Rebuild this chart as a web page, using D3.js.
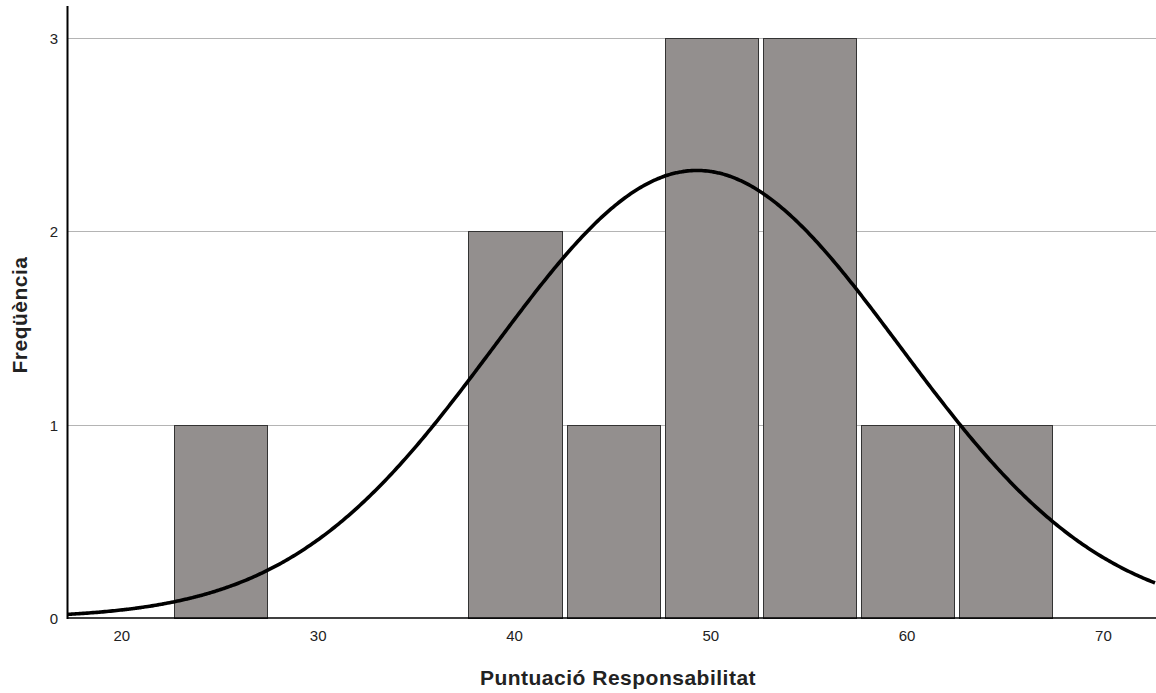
<!DOCTYPE html>
<html>
<head>
    <meta charset="utf-8">
    <title>Puntuació Responsabilitat</title>
    <script src="https://d3js.org/d3.v7.min.js"></script>
    <style>
        body { margin: 0; background: #fff; }
        text { font-family: "Liberation Sans", Arial, sans-serif; fill: #222; }
        .bar { fill: #938f8e; stroke: #333; stroke-width: 1px; }
        .grid line { stroke: #b4b4b4; stroke-width: 1px; }
        .curve { fill: none; stroke: #000; stroke-width: 3.6px; }
    </style>
</head>
<body>
<script>
    // histogram bins (lower edge, upper edge) and counts
    const binStart = [22.5, 37.5, 42.5, 47.5, 52.5, 57.5, 62.5];
    const binEnd   = [27.5, 42.5, 47.5, 52.5, 57.5, 62.5, 67.5];
    const counts   = [1, 2, 1, 3, 3, 1, 1];
    const xTicks = [20, 30, 40, 50, 60, 70];
    const yTicks = [0, 1, 2, 3];
    // normal curve parameters
    const mean = 49.3, sd = 10.34, n = 12, binWidth = 5;

    const width = 1156, height = 693;
    const plotLeft = 67.5, plotRight = 1156, plotTop = 6, plotBottom = 618;

    let svg = d3.select("body").append("svg")
        .attr("width", width)
        .attr("height", height);

    let x = d3.scaleLinear().domain([17.23, 72.68]).range([plotLeft, plotRight]);
    let y = d3.scaleLinear().domain([0, 3]).range([plotBottom, 38]);

    // gridlines
    svg.append("g").attr("class", "grid")
        .selectAll("line")
        .data(yTicks.filter(d => d > 0))
        .join("line")
        .attr("x1", plotLeft).attr("x2", plotRight)
        .attr("y1", d => Math.round(y(d)) + 0.5)
        .attr("y2", d => Math.round(y(d)) + 0.5);

    // bars
    let bins = counts.map((c, i) => ({ x0: binStart[i], x1: binEnd[i], c: c }));
    svg.append("g")
        .selectAll("rect")
        .data(bins)
        .join("rect")
        .attr("class", "bar")
        .attr("x", d => Math.round(x(d.x0)) + 3.5)
        .attr("width", d => Math.round(x(d.x1)) - Math.round(x(d.x0)) - 5)
        .attr("y", d => Math.round(y(d.c)) + 0.5)
        .attr("height", d => Math.round(y(0)) - Math.round(y(d.c)));

    // normal curve
    let pts = d3.range(17.23, 72.7, 0.1).map(v => [v,
        n * binWidth / (sd * Math.sqrt(2 * Math.PI)) * Math.exp(-((v - mean) ** 2) / (2 * sd * sd))]);
    svg.append("path")
        .attr("class", "curve")
        .attr("d", d3.line().x(d => x(d[0])).y(d => y(d[1])).curve(d3.curveBasis)(pts));

    // axes lines
    svg.append("line")
        .attr("x1", plotLeft).attr("x2", plotLeft)
        .attr("y1", plotTop).attr("y2", plotBottom + 1)
        .attr("stroke", "#000").attr("stroke-width", 2);
    svg.append("line")
        .attr("x1", plotLeft).attr("x2", plotRight)
        .attr("y1", plotBottom).attr("y2", plotBottom)
        .attr("stroke", "#000").attr("stroke-width", 1.5);

    // tick labels
    svg.append("g")
        .selectAll("text")
        .data(yTicks)
        .join("text")
        .attr("x", 58)
        .attr("y", d => y(d) + 6)
        .attr("text-anchor", "end")
        .attr("font-size", 15)
        .text(d => d);

    svg.append("g")
        .selectAll("text")
        .data(xTicks)
        .join("text")
        .attr("x", d => x(d))
        .attr("y", 641)
        .attr("text-anchor", "middle")
        .attr("font-size", 15)
        .text(d => d);

    // axis titles
    svg.append("text")
        .attr("x", 618)
        .attr("y", 685)
        .attr("text-anchor", "middle")
        .attr("font-size", 21)
        .attr("letter-spacing", 0.5)
        .attr("font-weight", "bold")
        .text("Puntuació Responsabilitat");

    svg.append("text")
        .attr("transform", "translate(27,315) rotate(-90)")
        .attr("text-anchor", "middle")
        .attr("font-size", 21)
        .attr("letter-spacing", 0.5)
        .attr("font-weight", "bold")
        .text("Freqüència");
</script>
</body>
</html>
